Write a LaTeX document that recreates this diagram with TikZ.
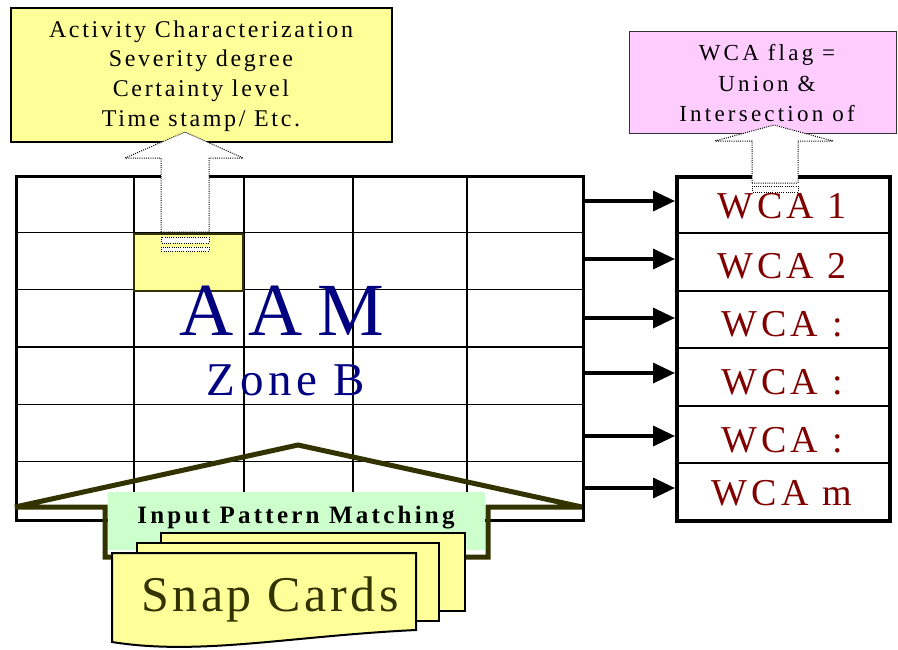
\documentclass[tikz,border=0pt]{standalone}
\usepackage{fontspec}
\setmainfont{Liberation Serif}
\usetikzlibrary{arrows.meta}
\definecolor{navyc}{HTML}{000080}
\definecolor{wcared}{HTML}{800000}
\definecolor{olivec}{HTML}{333300}
\definecolor{lyellow}{HTML}{FFFF99}
\definecolor{lpink}{HTML}{FFCCFF}
\definecolor{lgreen}{HTML}{CCFFCC}
\newcommand\fsz[2]{\fontsize{#1}{#1}\selectfont\addfontfeature{LetterSpace=#2}}
\begin{document}
\begin{tikzpicture}[x=1pt,y=-1pt,
  txt/.style={inner sep=0pt, anchor=base},
  thinline/.style={line width=1.5pt},
  hollow/.style={draw=black, fill=white, line width=1pt, dash pattern=on 1pt off 1.2pt},
  conn/.style={line width=3.5pt, -{Triangle[length=22pt,width=20pt]}},
  card/.style={draw=black, fill=lyellow, line width=2pt, line join=miter},
  boxtxt/.style={txt, font=\fsz{24}{11}},
  pinktxt/.style={txt, font=\fsz{23}{14}},
  wcatxt/.style={txt, text=wcared, font=\fsz{38}{11}}
]
\useasboundingbox (0,0) rectangle (898,649);

% AAM grid
\foreach \x in {134,244,353,467} \draw[thinline] (\x,175) -- (\x,519);
\foreach \y in {232.3,289.7,347,404.3,461.7} \draw[thinline] (15,\y) -- (582,\y);
\node[draw, line width=3pt, minimum width=567pt, minimum height=344pt, anchor=north west, inner sep=0pt] (aam) at (15,175) {};

% highlighted cell
\node[draw=olivec, fill=lyellow, line width=2pt, minimum width=109pt, minimum height=57pt, anchor=north west, inner sep=0pt] (cell) at (133,233) {};

% AAM labels
\node[txt, text=navyc, font=\fsz{75}{20}] (aamlbl) at (282,335) {AAM};
\node[txt, text=navyc, font=\fsz{47}{10}] (zone) at (286,395) {Zone B};

% input pattern matching shape
\draw[olivec, line width=5pt, line join=miter, miter limit=3]
  (15,507) -- (298,445) -- (582,507) -- (488,507) -- (488,557) -- (105,557) -- (105,507) -- cycle;
\node[fill=lgreen, minimum width=377pt, minimum height=58pt, anchor=north west, inner sep=0pt] (ipm) at (108,492) {};
\node[txt, font=\bfseries\fsz{25}{13}] (ipmlbl) at (296,523.3) {Input Pattern Matching};

% snap cards
\draw[card] (161,533) rectangle (465,611);
\draw[card] (137,543) rectangle (439,621);
\draw[card] (112,553) -- (416,553) -- (416,630) .. controls (290,636) and (200,656) .. (112,642) -- cycle;
\node[txt, text=olivec, font=\fsz{50}{7}] (snap) at (270,611.7) {Snap Cards};

% top yellow box
\node[draw=black, fill=lyellow, line width=1.5pt, minimum width=381pt, minimum height=134pt, anchor=north west, inner sep=0pt] (attr) at (10,7) {};
\node[boxtxt] (a1) at (201,37.3) {Activity Characterization};
\node[boxtxt] (a2) at (201,66.7) {Severity degree};
\node[boxtxt] (a3) at (201,96.7) {Certainty level};
\node[boxtxt] (a4) at (201,126) {Time stamp/ Etc.};

% hollow arrow from cell to box
\draw[hollow] (161,232) -- (161,158) -- (125,158) -- (185,132) -- (243,158) -- (209,158) -- (209,232) -- cycle;
\draw[hollow] (161,237) rectangle (209,243);
\draw[hollow] (161,247) rectangle (209,251);

% WCA box
\foreach \y in {233,291,348,406,463} \draw[thinline] (675,\y) -- (888,\y);
\node[draw, line width=4pt, minimum width=213pt, minimum height=344pt, anchor=north west, inner sep=0pt] (wca) at (675,175) {};
\node[wcatxt] (w1) at (782,218) {WCA 1};
\node[wcatxt] (w2) at (782,278) {WCA 2};
\node[wcatxt] (w3) at (782,336) {WCA :};
\node[wcatxt] (w4) at (782,394) {WCA :};
\node[wcatxt] (w5) at (782,452) {WCA :};
\node[wcatxt] (w6) at (782,505) {WCA m};

% connectors
\foreach \y [count=\i] in {201,259,318,373,436,488} {
  \coordinate (r\i) at (0,\y);
  \draw[conn] (aam.east |- r\i) -- (wca.west |- r\i);
}

% pink box
\node[draw=black!80, fill=lpink, line width=1.2pt, minimum width=267pt, minimum height=102pt, anchor=north west, inner sep=0pt] (flag) at (629,31) {};
\node[pinktxt] (f1) at (767,60) {WCA flag =};
\node[pinktxt] (f2) at (767,91.7) {Union \&};
\node[pinktxt] (f3) at (767,121.7) {Intersection of};

% hollow arrow from WCA to flag
\draw[hollow] (752,183) -- (752,141) -- (715,141) -- (774,125) -- (833,141) -- (798,141) -- (798,183) -- cycle;
\draw[hollow] (752,186) rectangle (798,192);
\end{tikzpicture}
\end{document}
